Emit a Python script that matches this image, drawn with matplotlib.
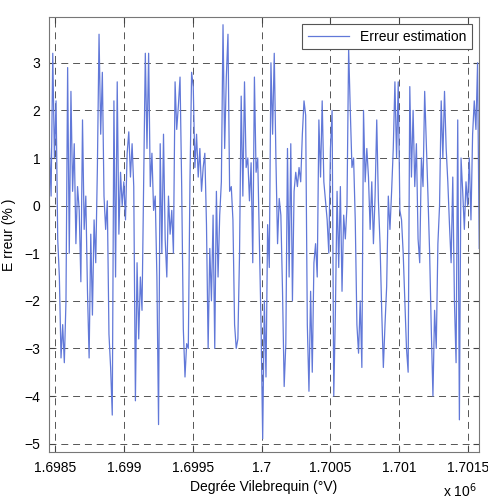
import numpy as np
import matplotlib.pyplot as plt

plt.rcParams['font.family'] = ['Liberation Sans', 'DejaVu Sans']
plt.rcParams['lines.scale_dashes'] = False

# abscisse : degré vilebrequin, pas régulier
x_debut = 1698460
x_pas = 12

# erreur, par tranche
erreur_1 = [1.2, 0.2, 3.2, 1.0, 2.2, -0.7, -1.5, -3.2, -2.5, -3.3,
            -2.0, 2.9, -1.0, 2.4, 0.3, 1.3, -0.8, 0.4, -0.1, -1.6,
            1.8, -0.5, 0.2, -1.8, -3.2, -0.6, -2.3, -0.3, -1.2, 0.8,
            3.6, 1.5, 2.8, 0.2, -0.5, 0.1, -2.7, -3.4, -4.4, 2.2,
            -1.5, 2.6, -0.6, 0.7, 0.0, 0.5, -0.3, 1.1, 1.55, 0.6,
            1.3, 0.4]
erreur_2 = [-4.1, -1.2, -2.8, -1.5, -2.2, 0.5, 3.2, 1.2, 3.2, 0.4,
            1.1, -0.1, 0.2, -1.5, -4.6, 1.3, -1.0, 1.5, -0.7, -1.5,
            0.2, -0.6, -0.1, -1.0, 2.6, 1.6, 2.1, 2.7, 0.4, -2.6,
            -3.6, -2.9, -3.0, 0.5, 2.8, 2.5, 0.8, 1.5, 0.6, 1.2,
            0.3, 0.8, 1.1, -0.4, -3.0, -0.9, -2.0, -0.2, -3.0, 0.3,
            -1.5, -0.2]
erreur_3 = [0.5, 3.8, 1.2, 2.7, 3.6, 0.3, 0.4, -0.3, -2.5, -3.0,
            -2.8, -1.0, 2.3, 0.2, 2.6, 0.8, 1.0, 0.1, 0.9, -1.2,
            2.7, 0.7, 1.0, -0.8, -2.5, -4.9, -2.0, -3.6, -0.4, -1.3,
            3.0, 1.5, 3.2, 1.0, -0.8, 0.15, -0.2, -1.8, -3.8, -2.9,
            1.2, -1.5, 1.3, -2.0, 0.3, 0.7, 0.4, 0.8, 0.5, 1.5,
            2.2, 1.9]
erreur_4 = [-2.5, -3.9, -1.8, -3.5, -1.2, -0.8, -1.5, 1.8, 0.6, 2.2,
            0.5, 0.1, -0.3, -1.0, 1.2, 2.0, -4.0, -2.2, 0.3, -1.3,
            0.4, -1.8, -0.2, -0.7, 0.0, 3.3, 2.0, 0.8, 1.0, -0.3,
            -2.5, -3.1, -2.0, -3.4, 2.0, 0.5, 1.2, 0.6, -0.5, 0.5,
            -0.8, 0.2, 1.8, 0.1, -0.8, -2.2, -3.4, -2.5, -1.7, 0.2,
            -0.5, 0.3]
erreur_5 = [1.2, 2.6, 1.0, 2.6, -0.1, -0.3, -1.0, -2.0, -3.0, -3.5,
            2.5, 0.6, 2.0, 0.4, 1.3, -0.7, -1.2, 1.0, 0.4, 2.4,
            1.3, 0.2, -1.0, -2.6, -4.0, -2.2, -3.0, -0.8, 0.0, 2.2,
            1.0, 2.4, 1.2, 0.5, -0.4, -1.2, 0.6, -2.0, -3.3, 1.8,
            -4.5, 1.0, 0.3, -0.5, 0.5, 0.0, 1.0, -0.3, 1.5, 2.2,
            1.6, 3.0, -0.9]

erreur = erreur_1 + erreur_2 + erreur_3 + erreur_4 + erreur_5
degre = x_debut + x_pas * np.arange(len(erreur))

x_ticks = [1698500, 1699000, 1699500, 1700000, 1700500, 1701000, 1701500]
x_labels = ['1.6985', '1.699', '1.6995', '1.7', '1.7005', '1.701', '1.7015']
y_ticks = [-5, -4, -3, -2, -1, 0, 1, 2, 3]

fig = plt.figure(figsize=(4.89, 5.03), dpi=100)
ax = fig.add_axes([0.100, 0.101, 0.880, 0.865])

ax.plot(degre, erreur, color='#6178d8', lw=0.9, label='Erreur estimation')

ax.set_xlim(1698456, 1701580)
ax.set_ylim(-5.18, 3.96)
ax.set_xticks(x_ticks)
ax.set_xticklabels(x_labels)
ax.set_yticks(y_ticks)
ax.tick_params(direction='in', top=True, right=True, length=4,
               labelsize=10, color='#444444', pad=6)
for s in ax.spines.values():
    s.set_color('#777777')
    s.set_linewidth(0.8)

ax.grid(True, color='#555555', linestyle=(0, (5, 3.5)), linewidth=0.7)

ax.set_xlabel('Degrée Vilebrequin (°V)', fontsize=10, labelpad=4)
ax.set_ylabel('E rreur (% )', fontsize=10, labelpad=6)
fig.text(0.905, 0.012, r'x 10$^6$', fontsize=10)

leg = ax.legend(loc='upper right', fontsize=10, fancybox=False,
                framealpha=1, edgecolor='#555555', handlelength=3,
                borderaxespad=0.5)
leg.get_frame().set_linewidth(0.8)

plt.savefig('out.png', dpi=100)
